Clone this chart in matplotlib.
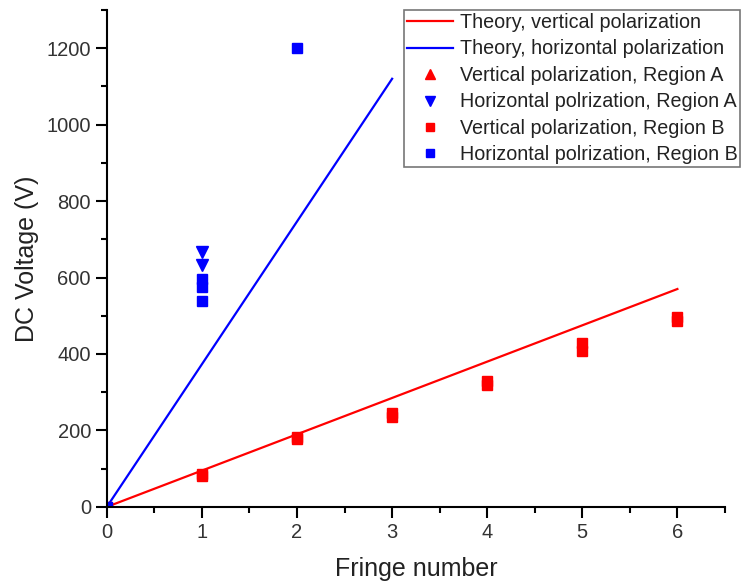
import matplotlib
matplotlib.use("Agg")
import matplotlib.pyplot as plt
import numpy as np
from matplotlib.ticker import MultipleLocator

plt.rcParams['font.family'] = ['Liberation Sans', 'DejaVu Sans']

# Theory lines
theory_v_x = [0, 6]
theory_v_y = [0, 570]
theory_h_x = [0, 3]
theory_h_y = [0, 1120]

# Region A (triangles)
va_x = []
va_y = []
ha_x = [1, 1]
ha_y = [668, 633]

# Region B (squares)
vb_x = [0, 1, 1, 2, 2, 3, 3, 4, 4, 5, 5, 6, 6]
vb_y = [0, 80, 87, 178, 182, 234, 246, 318, 330, 407, 428, 485, 497]
hb_x = [0, 1, 1, 1, 2]
hb_y = [0, 595, 574, 538, 1200]

fig = plt.figure(figsize=(7.42, 5.86), dpi=100)
ax = fig.add_axes([0.144, 0.135, 0.833, 0.848])

ax.plot(theory_v_x, theory_v_y, color='#ff0000', lw=1.6, label='Theory, vertical polarization')
ax.plot(theory_h_x, theory_h_y, color='#0000ff', lw=1.6, label='Theory, horizontal polarization')
ax.plot(va_x, va_y, ls='none', marker='^', ms=9, color='#ff0000', label='Vertical polarization, Region A')
ax.plot(ha_x, ha_y, ls='none', marker='v', ms=9, color='#0000ff', label='Horizontal polrization, Region A')
ax.plot(vb_x, vb_y, ls='none', marker='s', ms=7, color='#ff0000', label='Vertical polarization, Region B')
ax.plot(hb_x, hb_y, ls='none', marker='s', ms=7, color='#0000ff', label='Horizontal polrization, Region B')

ax.set_xlim(0, 6.5)
ax.set_ylim(0, 1300)
ax.xaxis.set_major_locator(MultipleLocator(1))
ax.xaxis.set_minor_locator(MultipleLocator(0.5))
ax.yaxis.set_major_locator(MultipleLocator(200))
ax.yaxis.set_minor_locator(MultipleLocator(100))

for s in ['top', 'right']:
    ax.spines[s].set_visible(False)
for s in ['left', 'bottom']:
    ax.spines[s].set_linewidth(1.5)
ax.tick_params(which='major', direction='out', length=8, width=1.5, labelsize=14.5, colors='black', labelcolor='#333333')
ax.tick_params(which='minor', direction='out', length=4, width=1.5)

ax.set_xlabel('Fringe number', fontsize=18, color='#222222', labelpad=11)
ax.set_ylabel('DC Voltage (V)', fontsize=18, color='#222222', labelpad=5)

leg = ax.legend(loc='upper right', bbox_to_anchor=(1.025, 1.0), fontsize=14.2, frameon=True, fancybox=False,
                edgecolor='#555555', handlelength=2.3, handletextpad=0.35, labelspacing=0.38,
                borderpad=0.15, borderaxespad=0.0, markerscale=0.85)
leg.get_frame().set_linewidth(1.2)
for t in leg.get_texts():
    t.set_color('#222222')

fig.savefig('out.png', dpi=100)
